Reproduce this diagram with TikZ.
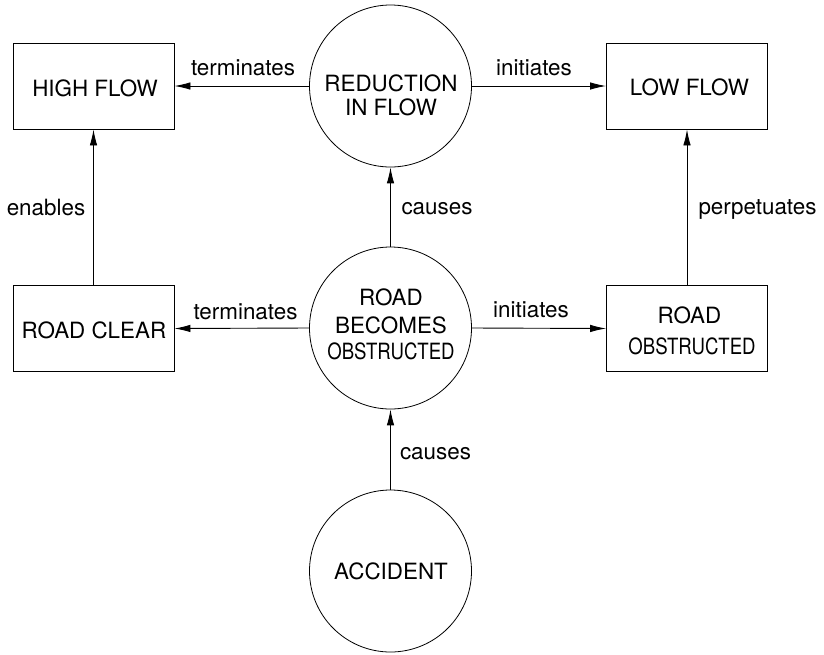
\documentclass[tikz,border=0pt]{standalone}
\usepackage{fontspec}
\usepackage{graphicx}
\setmainfont{TeX Gyre Heros}
\usetikzlibrary{arrows.meta}
\begin{document}
\begin{tikzpicture}[x=1pt,y=-1pt,
  box/.style={draw,line width=0.9pt,minimum width=161pt,minimum height=86pt,inner sep=0pt},
  circ/.style={draw,circle,line width=0.8pt,minimum size=162pt,inner sep=0pt},
  txt/.style={anchor=base,inner sep=0pt,font=\fontsize{22.4}{24}\selectfont},
  lab/.style={anchor=base,inner sep=0pt,font=\fontsize{22.4}{24}\selectfont},
  arr/.style={line width=0.9pt,-{Latex[length=16pt,width=7.5pt]}}]
\useasboundingbox (0,0) rectangle (824,654);
% nodes
\node[box] (high) at (93.5,86) {};
\node[box] (low) at (687,86) {};
\node[box] (clear) at (93.5,328.5) {};
\node[box] (obs) at (687,328.5) {};
\node[circ] (red) at (390.5,86) {};
\node[circ] (rbo) at (390.5,328) {};
\node[circ] (acc) at (390.5,571) {};
% texts
\node[txt] (t1) at (95,96) {HIGH FLOW};
\node[txt] (t2) at (689.5,95) {LOW FLOW};
\node[txt] (t3) at (94,338) {ROAD CLEAR};
\node[txt] (t4a) at (689.5,323) {ROAD};
\node[txt] (t4b) at (692,354) {\scalebox{0.83}[1]{OBSTRUCTED}};
\node[txt] (t5a) at (391,91) {REDUCTION};
\node[txt] (t5b) at (391,115) {IN FLOW};
\node[txt] (t6a) at (391,305) {ROAD};
\node[txt] (t6b) at (391,333) {BECOMES};
\node[txt] (t6c) at (391,359.5) {\scalebox{0.83}[1]{OBSTRUCTED}};
\node[txt] (t7) at (391,579) {ACCIDENT};
% connectors
\draw[arr] (red.west) -- (high.east);
\node[lab] (l1) at (243,75) {terminates};
\draw[arr] (red.east) -- (low.west);
\node[lab] (l2) at (534,75) {initiates};
\draw[arr] (rbo.north) -- (red.south);
\node[lab] (l3) at (437,214) {causes};
\draw[arr] (rbo.west) -- (clear.east);
\node[lab] (l4) at (245.5,319) {terminates};
\draw[arr] (rbo.east) -- (obs.west);
\node[lab] (l5) at (531,317) {initiates};
\draw[arr] (clear.north) -- (high.south);
\node[lab] (l6) at (46,215) {enables};
\draw[arr] (obs.north) -- (low.south);
\node[lab] (l7) at (757.5,214) {perpetuates};
\draw[arr] (acc.north) -- (rbo.south);
\node[lab] (l8) at (435.5,459) {causes};
\end{tikzpicture}
\end{document}
